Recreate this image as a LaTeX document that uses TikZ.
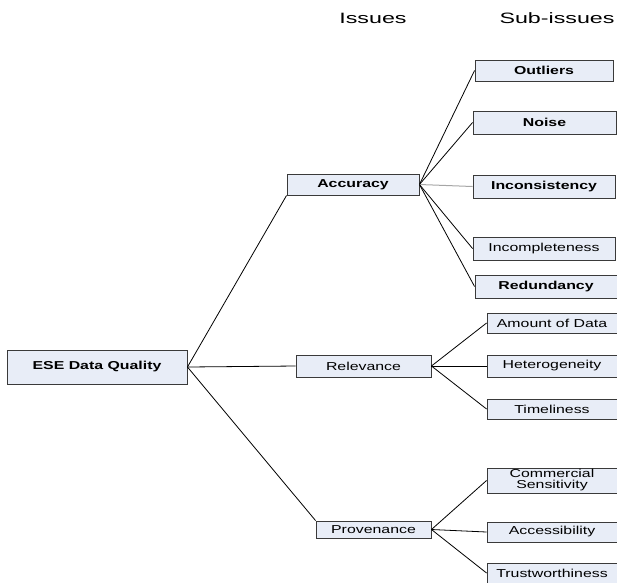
\documentclass[tikz,border=0pt]{standalone}
\usepackage{fontspec}
\usetikzlibrary{shadows}
\newfontfamily\labelfont[FakeStretch=1.38]{Liberation Sans}
\newfontfamily\titlefont[FakeStretch=1.55]{Liberation Sans}
\definecolor{boxfill}{HTML}{E8EDF7}
\definecolor{boxline}{HTML}{3A3A3A}
\begin{document}
\begin{tikzpicture}[x=1pt,y=-1pt,
		box/.style={draw=boxline, fill=boxfill, line width=0.9pt, inner sep=0pt,
			drop shadow={shadow xshift=0.8pt, shadow yshift=-0.8pt, fill=gray!70},
			font=\labelfont\fontsize{11.5}{11}\selectfont, align=center},
		strong/.style={font=\labelfont\bfseries\fontsize{11.5}{11}\selectfont},
		heading/.style={font=\titlefont\fontsize{15}{15}\selectfont},
		link/.style={draw=black, line width=0.8pt},
		faint/.style={draw=gray!70, line width=1pt}]
			\useasboundingbox (0,0) rectangle (617,582);
			% column titles
			\node[heading] (tissues) at (373,18) {Issues};
			\node[heading] (tsub) at (557,18) {Sub-issues};
			% root and issues
			\node[box, strong, minimum width=180, minimum height=34] (ese) at (97,367) {ESE Data Quality};
			\node[box, strong, minimum width=132, minimum height=21] (acc) at (353,184.5) {Accuracy};
			\node[box, minimum width=135, minimum height=22] (rel) at (363.5,366) {Relevance};
			\node[box, minimum width=115, minimum height=17] (prov) at (373.5,529.5) {Provenance};
			% sub-issues of accuracy
			\node[box, strong, minimum width=138, minimum height=21] (outl) at (544,70.5) {Outliers};
			\node[box, strong, minimum width=143, minimum height=23] (noise) at (544.5,122.5) {Noise};
			\node[box, strong, minimum width=142, minimum height=23] (incons) at (544,186.5) {Inconsistency};
			\node[box, minimum width=142, minimum height=23] (incompl) at (544,248.5) {Incompleteness};
			\node[box, strong, minimum width=142, minimum height=23] (redund) at (546,286.5) {Redundancy};
			% sub-issues of relevance
			\node[box, minimum width=130, minimum height=20] (amount) at (552,323) {Amount of Data};
			\node[box, minimum width=130, minimum height=22] (hetero) at (552,366) {Heterogeneity};
			\node[box, minimum width=130, minimum height=20] (timel) at (552,409) {Timeliness};
			% sub-issues of provenance
			\node[box, minimum width=130, minimum height=25] (comm) at (552,480.5) {Commercial\\Sensitivity};
			\node[box, minimum width=130, minimum height=20] (access) at (552,532) {Accessibility};
			\node[box, minimum width=130, minimum height=20] (trust) at (552,573) {Trustworthiness};
			% connectors
			\draw[link] (ese.east) -- (acc.south west);
			\draw[link] (ese.east) -- (rel.west);
			\draw[link] (ese.east) -- (prov.north west);
			\draw[link] (acc.east) -- (outl.west);
			\draw[link] (acc.east) -- (noise.west);
			\draw[faint] (acc.east) -- (incons.west);
			\draw[link] (acc.east) -- (incompl.west);
			\draw[link] (acc.east) -- (redund.west);
			\draw[link] (rel.east) -- (amount.west);
			\draw[link] (rel.east) -- (hetero.west);
			\draw[link] (rel.east) -- (timel.west);
			\draw[link] (prov.east) -- (comm.west);
			\draw[link] (prov.east) -- (access.west);
			\draw[link] (prov.east) -- (trust.west);
		\end{tikzpicture}
\end{document}
